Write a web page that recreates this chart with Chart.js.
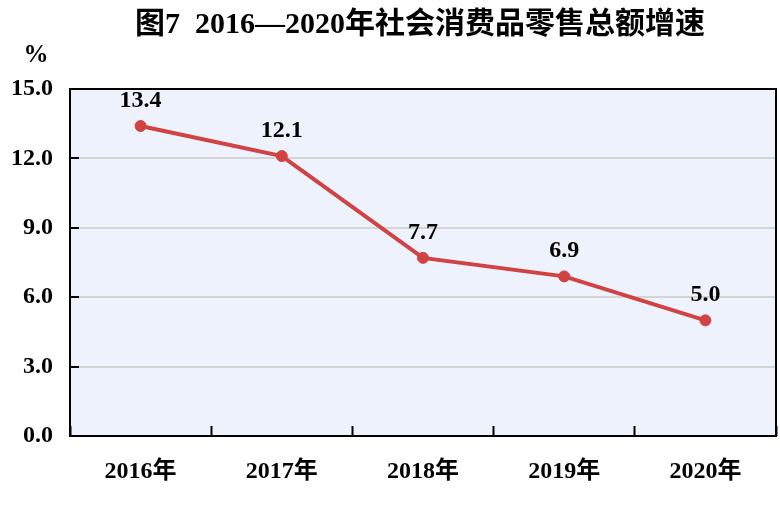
<!DOCTYPE html>
<html><head><meta charset="utf-8">
<script src="https://cdn.jsdelivr.net/npm/chart.js@4"></script>
<style>html,body{margin:0;padding:0;background:#fff;overflow:hidden}canvas{display:block}</style>
</head><body><canvas id="c" width="780" height="505"></canvas>
<script>
const titleText = "图7  2016—2020年社会消费品零售总额增速";
const unitLabel = "%";
const categories = ["2016年","2017年","2018年","2019年","2020年"];
const growthValues = [13.4, 12.1, 7.7, 6.9, 5.0];
const yTicks = [0, 3, 6, 9, 12, 15];

const FONT = "'Liberation Serif','Noto Sans CJK SC',serif";
const LINE = "#D14343";

const decor = {
  id: 'decor',
  beforeDraw(chart) {
    const {ctx, chartArea: a} = chart;
    ctx.save();
    ctx.fillStyle = '#EEF2FD';
    ctx.fillRect(a.left, a.top, a.right - a.left, a.bottom - a.top);
    ctx.restore();
  },
  afterDraw(chart) {
    const {ctx, chartArea: a} = chart;
    ctx.save();
    ctx.strokeStyle = '#000';
    ctx.lineWidth = 2;
    ctx.strokeRect(a.left, a.top, a.right - a.left, a.bottom - a.top);
    // title
    ctx.fillStyle = '#000';
    ctx.font = "bold 30px " + FONT;
    ctx.textAlign = 'center';
    ctx.textBaseline = 'middle';
    ctx.fillText(titleText, (a.left + a.right) / 2 - 3, 25);
    // unit
    ctx.font = "bold 25px " + FONT;
    ctx.fillText(unitLabel, 36, 56);
    // data labels
    const meta = chart.getDatasetMeta(0);
    ctx.font = "bold 24px " + FONT;
    ctx.textBaseline = 'alphabetic';
    meta.data.forEach((pt, i) => {
      ctx.fillText(growthValues[i].toFixed(1), pt.x, pt.y - 19);
    });
    ctx.restore();
  }
};

new Chart(document.getElementById('c'), {
  type: 'line',
  data: {
    labels: categories,
    datasets: [{
      data: growthValues,
      borderColor: LINE,
      backgroundColor: LINE,
      borderWidth: 4,
      pointRadius: 5.5,
      pointBorderWidth: 1,
      pointBackgroundColor: LINE,
      pointBorderColor: LINE,
      tension: 0,
      clip: false
    }]
  },
  options: {
    responsive: false,
    animation: false,
    devicePixelRatio: 1,
    layout: { autoPadding: false, padding: { top: 89, left: 0, right: 4, bottom: 0 } },
    plugins: { legend: { display: false }, title: { display: false }, tooltip: { enabled: false } },
    scales: {
      x: {
        offset: true,
        grid: { offset: true, drawOnChartArea: false, tickLength: -10, tickColor: '#000', tickWidth: 2 },
        border: { display: false },
        ticks: { color: '#000', padding: 31, font: { family: FONT, size: 24, weight: 'bold' } },
        afterFit(s) { s.height = 69; s.paddingLeft = 0; s.paddingRight = 0; }
      },
      y: {
        min: 0, max: 15,
        afterBuildTicks(s) { s.ticks = yTicks.map(v => ({ value: v })); },
        grid: { color: '#D4D4D4', lineWidth: 2, tickLength: -9, tickColor: '#000', tickWidth: 2 },
        border: { display: false },
        ticks: { color: '#000', padding: 26, font: { family: FONT, size: 24, weight: 'bold' },
          callback: v => Number(v).toFixed(1) },
        afterFit(s) { s.width = 70; s.paddingTop = 0; s.paddingBottom = 0; }
      }
    }
  },
  plugins: [decor]
});
</script></body></html>
